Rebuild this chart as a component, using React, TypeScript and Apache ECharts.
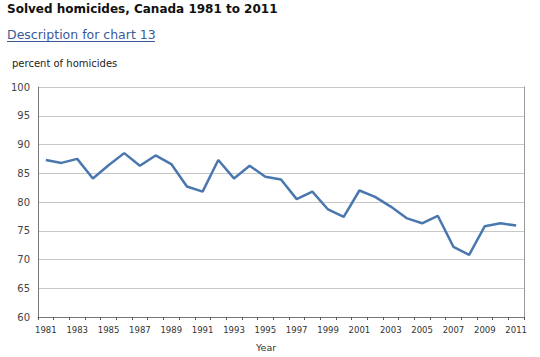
import React, { useEffect, useRef } from "react";
import * as echarts from "echarts";

const years = [
  "1981","1982","1983","1984","1985","1986","1987","1988","1989","1990",
  "1991","1992","1993","1994","1995","1996","1997","1998","1999","2000",
  "2001","2002","2003","2004","2005","2006","2007","2008","2009","2010","2011",
];
const solvedPercent = [
  87.3, 86.8, 87.5, 84.1, 86.4, 88.5, 86.3, 88.1, 86.6, 82.7,
  81.8, 87.3, 84.1, 86.3, 84.4, 83.9, 80.5, 81.8, 78.7, 77.4,
  82.0, 80.9, 79.2, 77.2, 76.3, 77.6, 72.2, 70.8, 75.8, 76.3, 75.9,
];
const titleText = "Solved homicides, Canada 1981 to 2011";
const linkText = "Description for chart 13";
const yAxisTitle = "percent of homicides";
const xAxisTitle = "Year";

const FONT = "DejaVu Sans, Verdana, sans-serif";

export default function App() {
  const ref = useRef<HTMLDivElement>(null);
  useEffect(() => {
    if (!ref.current) return;
    const chart = echarts.init(ref.current, undefined, { renderer: "svg" });
    chart.setOption({
      animation: false,
      backgroundColor: "#ffffff",
      textStyle: { fontFamily: FONT },
      graphic: [
        {
          type: "text",
          left: 7,
          top: 3,
          style: { text: titleText, font: `bold 12px ${FONT}`, fill: "#111111" },
        },
        {
          type: "text",
          left: 7,
          top: 28,
          style: { text: linkText, font: `12.5px ${FONT}`, fill: "#3a5a99" },
        },
        {
          type: "line",
          shape: { x1: 7, y1: 41.5, x2: 155, y2: 41.5 },
          style: { stroke: "#3a5a99", lineWidth: 1 },
        },
        {
          type: "text",
          left: 12,
          top: 58,
          style: { text: yAxisTitle, font: `10px ${FONT}`, fill: "#222222" },
        },
        {
          type: "text",
          left: 256,
          top: 342,
          style: { text: xAxisTitle, font: `9.5px ${FONT}`, fill: "#333333" },
        },
      ],
      grid: { left: 38, right: 16, top: 87, bottom: 40, containLabel: false },
      xAxis: {
        type: "category",
        data: years,
        boundaryGap: true,
        axisLine: { show: true, lineStyle: { color: "#777777", width: 1 } },
        axisTick: { show: true, interval: 0, length: 3, lineStyle: { color: "#555555" } },
        axisLabel: { interval: 1, fontSize: 8.5, color: "#333333", margin: 8, fontFamily: FONT },
        splitLine: { show: false },
      },
      yAxis: [
        {
          type: "value",
          min: 60,
          max: 100,
          interval: 5,
          axisLine: { show: true, lineStyle: { color: "#777777", width: 1 } },
          axisTick: { show: false },
          axisLabel: { fontSize: 10, color: "#444444", margin: 8, fontFamily: FONT },
          splitLine: { show: true, lineStyle: { color: "#c8c8c8", width: 1 } },
        },
        {
          type: "value",
          min: 60,
          max: 100,
          interval: 5,
          position: "right",
          axisLine: { show: true, lineStyle: { color: "#999999", width: 1 } },
          axisTick: { show: false },
          axisLabel: { show: false },
          splitLine: { show: false },
        },
      ],
      series: [
        {
          type: "line",
          data: solvedPercent,
          yAxisIndex: 0,
          symbol: "none",
          lineStyle: { color: "#4a78ae", width: 2.5 },
          itemStyle: { color: "#4a78ae" },
        },
      ],
    });
    return () => chart.dispose();
  }, []);
  return <div ref={ref} style={{ width: 540, height: 357, position: "absolute", left: 0, top: 0 }} />;
}
